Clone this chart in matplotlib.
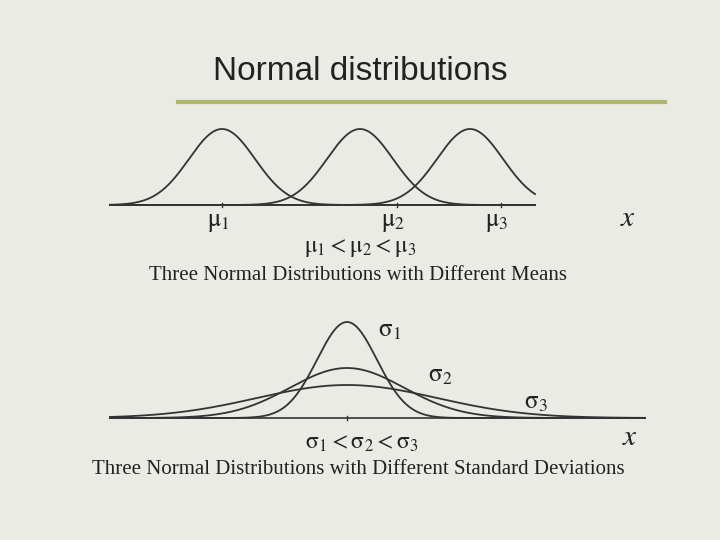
import numpy as np
import matplotlib
matplotlib.use("Agg")
import matplotlib.pyplot as plt
plt.rcParams['mathtext.fontset'] = 'stix'

# data (in slide pixel units)
means_top = [222, 360, 470]
sigma_top = 33
height_top = 76
labels_top = [r"$\mathrm{\mu}_1$", r"$\mathrm{\mu}_2$", r"$\mathrm{\mu}_3$"]
label_x_top = [218, 393, 497]

mean_bot = 347
sigmas_bot = [30, 57, 90]
heights_bot = [96, 50, 33]
labels_bot = [r"$\mathrm{\sigma}_1$", r"$\mathrm{\sigma}_2$", r"$\mathrm{\sigma}_3$"]
label_pos_bot = [(390, 330), (440, 375), (536, 402)]

fig = plt.figure(figsize=(7.2, 5.4), dpi=100)
fig.patch.set_facecolor("#e9ebe4")
ax = fig.add_axes([0, 0, 1, 1])
ax.set_xlim(0, 720); ax.set_ylim(540, 0); ax.axis("off")

ax.text(360, 72, "Normal distributions", ha="center", va="center", fontsize=24, family="Liberation Sans", color="#222")
ax.plot([178, 665], [102, 102], color="#b3b56a", lw=3)

serif = "Liberation Serif"
# top
y0 = 205
ax.plot([110, 535], [y0, y0], color="#333", lw=1.2)
x = np.linspace(110, 535, 800)
for m in means_top:
    ax.plot(x, y0 - height_top*np.exp(-0.5*((x-m)/sigma_top)**2), color="#333", lw=1.3)
for lx, lab in zip(label_x_top, labels_top):
    ax.plot([lx+4, lx+4], [y0-2, y0+2], color="#333", lw=1)
    ax.text(lx, 222, lab, fontsize=18, ha="center", va="center", color="#222")
ax.text(628, 218, r"$x$", fontsize=21, ha="center", va="center", color="#222")
ax.text(360, 247, r"$\mathrm{\mu}_1 < \mathrm{\mu}_2 < \mathrm{\mu}_3$", fontsize=17, ha="center", va="center", color="#222")
ax.text(358, 275, "Three Normal Distributions with Different Means", fontsize=15, ha="center", va="center", family=serif, color="#222")

# bottom
y1 = 418
ax.plot([110, 645], [y1, y1], color="#333", lw=1.2)
x = np.linspace(110, 645, 900)
for s, h in zip(sigmas_bot, heights_bot):
    ax.plot(x, y1 - h*np.exp(-0.5*((x-mean_bot)/s)**2), color="#333", lw=1.3)
ax.plot([mean_bot, mean_bot], [y1-2, y1+2], color="#333", lw=1)
for (lx, ly), lab in zip(label_pos_bot, labels_bot):
    ax.text(lx, ly, lab, fontsize=18, ha="center", va="center", color="#222")
ax.text(630, 437, r"$x$", fontsize=21, ha="center", va="center", color="#222")
ax.text(362, 442, r"$\mathrm{\sigma}_1 < \mathrm{\sigma}_2 < \mathrm{\sigma}_3$", fontsize=17, ha="center", va="center", color="#222")
ax.text(358, 470, "Three Normal Distributions with Different Standard Deviations", fontsize=15, ha="center", va="center", family=serif, color="#222")

fig.savefig("out.png", dpi=100, facecolor=fig.get_facecolor())
